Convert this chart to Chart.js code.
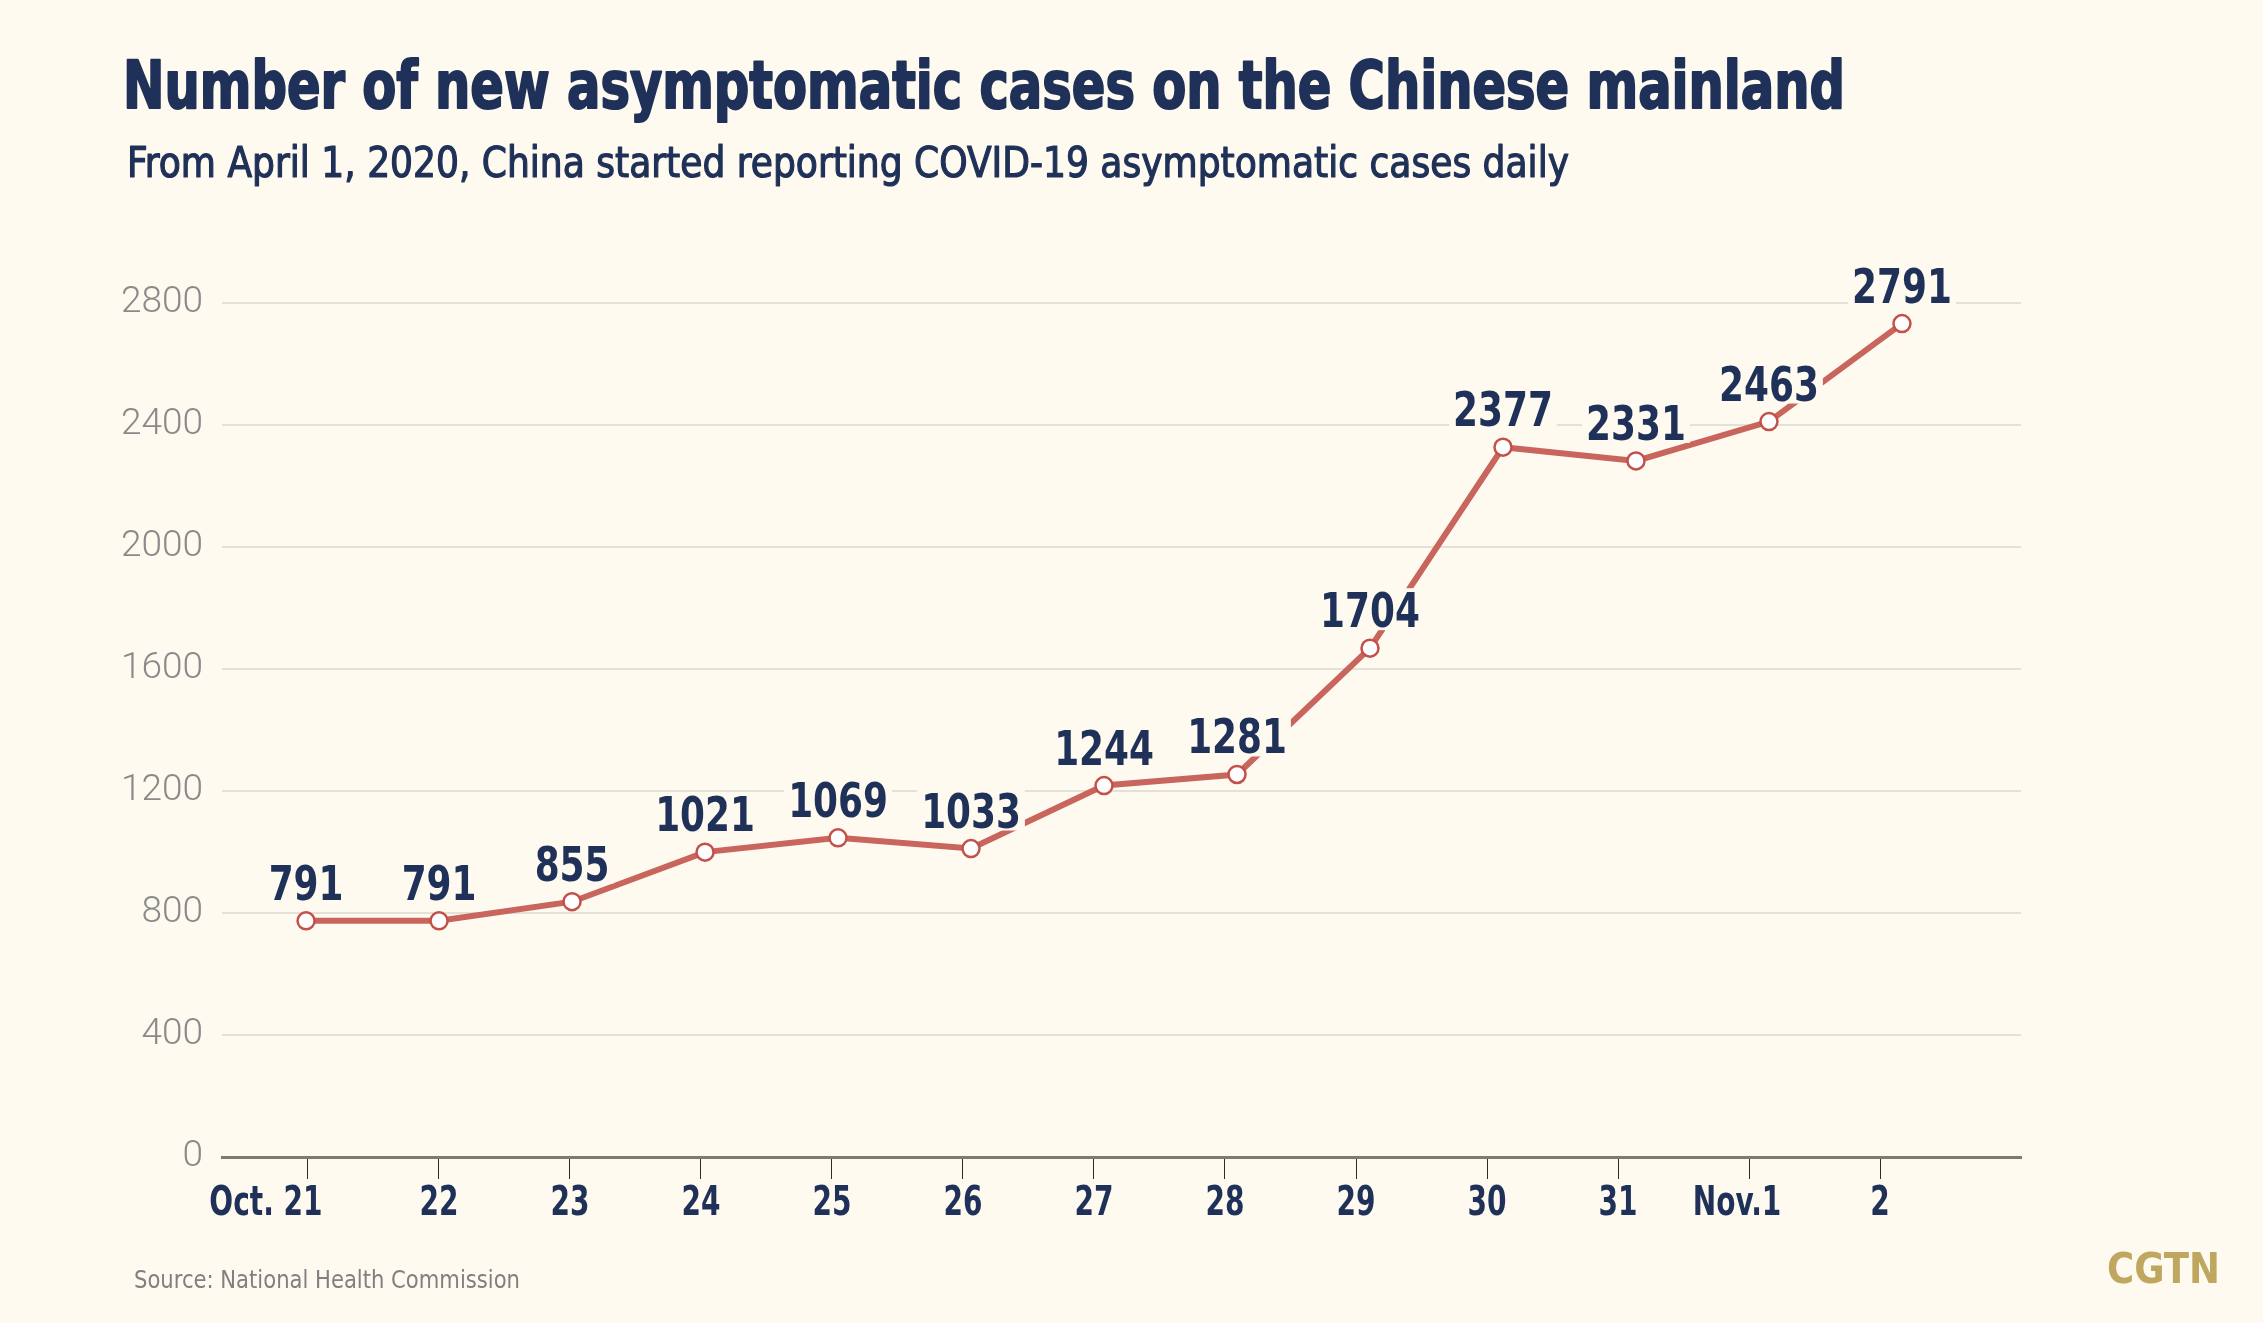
<!DOCTYPE html>
<html>
<head>
<meta charset="utf-8">
<script src="https://cdn.jsdelivr.net/npm/chart.js@4.4.1/dist/chart.umd.min.js"></script>
<style>
  html, body { margin: 0; padding: 0; background: #fefaef; }
</style>
</head>
<body>
<canvas id="myChart" width="2263" height="1323"></canvas>
<script>
const dayLabels = ['Oct. 21', '22', '23', '24', '25', '26', '27', '28', '29', '30', '31', 'Nov.1', '2'];
const newCases = [791, 791, 855, 1021, 1069, 1033, 1244, 1281, 1704, 2377, 2331, 2463, 2791];
const yTicks = [0, 400, 800, 1200, 1600, 2000, 2400, 2800];

const titleText = 'Number of new asymptomatic cases on the Chinese mainland';
const subtitleText = 'From April 1, 2020, China started reporting COVID-19 asymptomatic cases daily';
const sourceText = 'Source: National Health Commission';

const BG = '#fefaef';
const NAVY = '#1f3158';
const NARROW = "'DejaVu Sans Condensed', 'DejaVu Sans', sans-serif";

// draw text squeezed/stretched to a given width
function fitText(ctx, text, x, y, font, color, width, bold) {
  ctx.save();
  ctx.font = font;
  ctx.fillStyle = color;
  ctx.strokeStyle = color;
  ctx.textAlign = 'left';
  ctx.textBaseline = 'alphabetic';
  let w = ctx.measureText(text).width;
  ctx.translate(x, y);
  ctx.scale(width / w, 1);
  ctx.fillText(text, 0, 0);
  if (bold) {
    ctx.lineWidth = bold;
    ctx.lineJoin = 'round';
    ctx.strokeText(text, 0, 0);
  }
  ctx.restore();
}

// centred text with a horizontal squeeze (the original uses a narrow DIN-like face)
function squeezed(ctx, text, x, y, k) {
  ctx.save();
  ctx.translate(x, y);
  ctx.scale(k, 1);
  ctx.fillText(text, 0, 0);
  ctx.restore();
}

const background = {
  id: 'background',
  beforeDraw(chart) {
    let ctx = chart.ctx;
    ctx.save();
    ctx.fillStyle = BG;
    ctx.fillRect(0, 0, chart.width, chart.height);
    ctx.restore();
  }
};

const texts = {
  id: 'texts',
  afterDraw(chart) {
    let ctx = chart.ctx;
    fitText(ctx, titleText, 123, 108, 'bold 65px ' + NARROW, NAVY, 1722, 2);
    fitText(ctx, subtitleText, 127, 177, '42px ' + NARROW, NAVY, 1442, 1.2);
    fitText(ctx, sourceText, 134, 1288, '25px ' + NARROW, '#808080', 386, 0);
    fitText(ctx, 'CGTN', 2107, 1283, 'bold 42px ' + NARROW, '#bfa760', 113, 0);
  }
};

// x tick labels drawn narrow, under the ticks of the x scale
const dayTickLabels = {
  id: 'dayTickLabels',
  afterDraw(chart) {
    let ctx = chart.ctx;
    let sc = chart.scales.x;
    ctx.save();
    ctx.font = 'bold 41px ' + NARROW;
    ctx.fillStyle = NAVY;
    ctx.textAlign = 'center';
    ctx.textBaseline = 'alphabetic';
    sc.ticks.forEach((t, i) => {
      let x = sc.getPixelForValue(t.value);
      // first label hangs to the left so that "21" sits under its tick
      if (i === 0) x -= 42;
      if (i === dayLabels.length - 2) x -= 12;
      squeezed(ctx, dayLabels[i], x, sc.top + 58, 0.76);
    });
    ctx.restore();
  }
};

// value labels above the points, with a background box that hides the line
const valueLabels = {
  id: 'valueLabels',
  afterDatasetsDraw(chart) {
    let ctx = chart.ctx;
    let meta = chart.getDatasetMeta(0);
    ctx.save();
    ctx.font = 'bold 48px ' + NARROW;
    ctx.textAlign = 'center';
    ctx.textBaseline = 'alphabetic';
    meta.data.forEach((pt, i) => {
      let txt = String(newCases[i]);
      let w = ctx.measureText(txt).width * 0.83;
      let bottom = pt.y - 21;
      ctx.fillStyle = BG;
      ctx.fillRect(pt.x - w / 2 - 4, bottom - 39, w + 8, 42);
      ctx.fillStyle = NAVY;
      squeezed(ctx, txt, pt.x, bottom, 0.83);
    });
    ctx.restore();
  }
};

new Chart(document.getElementById('myChart'), {
  type: 'line',
  data: {
    datasets: [{
      data: newCases.map((v, i) => ({ x: i, y: v })),
      xAxisID: 'xData',
      yAxisID: 'yData',
      borderColor: '#c8655d',
      borderWidth: 6,
      pointRadius: 8.5,
      pointBorderWidth: 2.5,
      pointBackgroundColor: '#ffffff',
      pointBorderColor: '#c4504a',
      tension: 0
    }]
  },
  options: {
    responsive: false,
    animation: false,
    devicePixelRatio: 1,
    layout: { padding: { top: 303, right: 242, left: 0, bottom: 0 } },
    plugins: { legend: { display: false }, tooltip: { enabled: false } },
    scales: {
      x: {
        type: 'linear',
        position: 'bottom',
        min: -0.656,
        max: 13.076,
        afterBuildTicks: s => { s.ticks = dayLabels.map((_, i) => ({ value: i })); },
        afterFit: s => { s.height = 166; },
        grid: { drawOnChartArea: false, drawTicks: true, tickLength: 22, color: '#2b2b2b', lineWidth: 1 },
        border: { color: '#7e7a70', width: 3 },
        ticks: {
          autoSkip: false,
          maxRotation: 0,
          color: 'rgba(0,0,0,0)',
          font: { family: NARROW, size: 30 },
          callback: v => dayLabels[v]
        }
      },
      // the plotted line sits slightly off the tick grid in the original graphic
      xData: { type: 'linear', display: false, min: -0.632, max: 12.895 },
      y: {
        min: 0,
        max: 2800,
        afterBuildTicks: s => { s.ticks = yTicks.map(v => ({ value: v })); },
        afterFit: s => { s.width = 222; },
        grid: { color: '#e4e1d7', lineWidth: 2, drawTicks: false },
        border: { display: false },
        ticks: {
          padding: 19,
          color: '#8a8a8a',
          font: { family: 'Roboto', size: 37, weight: '300' },
          callback: v => String(v)
        }
      },
      yData: { type: 'linear', display: false, min: 0, max: 2860 }
    }
  },
  plugins: [background, valueLabels, dayTickLabels, texts]
});
</script>
</body>
</html>
